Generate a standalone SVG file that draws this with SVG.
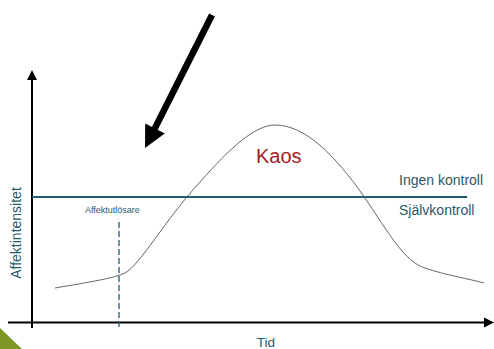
<svg xmlns="http://www.w3.org/2000/svg" width="494" height="349" viewBox="0 0 494 349">
<style>
.axis{stroke:#000;stroke-width:2;fill:none}
.lbl{font-family:"Liberation Sans",Arial,sans-serif;fill:#1f5b6b}
</style>
<rect width="494" height="349" fill="#fff"/>
<polygon points="0,328 0,349 22,349" fill="#7d9624"/>
<g id="axes">
<line class="axis" x1="32" y1="78" x2="32" y2="328"/>
<polygon points="32,70 27,80 37,80" fill="#000"/>
<line class="axis" x1="8" y1="322.5" x2="486" y2="322.5"/>
<polygon points="494,322.5 484,317.5 484,327.5" fill="#000"/>
</g>
<g id="limit">
<line x1="32" y1="197" x2="467" y2="197" stroke="#1f5b6b" stroke-width="2"/>
<text class="lbl" x="399" y="185" font-size="14">Ingen kontroll</text>
<text class="lbl" x="399" y="215" font-size="14">Självkontroll</text>
</g>
<g id="trigger">
<line x1="119" y1="222" x2="119" y2="330" stroke="#1f5b6b" stroke-width="1.3" stroke-dasharray="6,3"/>
<text class="lbl" x="85" y="213" font-size="9">Affektutlösare</text>
</g>
<g id="curve">
<path d="M55,288 C90,282 115,278 125,273 C140,265 165,220 200,182 C230,148 255,125 275,125 C305,125 335,155 365,198 C390,235 405,262 425,268 C445,275 470,279 484,283" fill="none" stroke="#555" stroke-width="0.9"/>
</g>
<g id="kaos">
<text x="256" y="163" font-family="'Liberation Sans',Arial,sans-serif" font-size="20" fill="#a31d1d">Kaos</text>
</g>
<g id="arrow">
<line x1="212" y1="15" x2="154" y2="130" stroke="#000" stroke-width="6.5"/>
<polygon points="145,148 145.2,123.5 164.8,133.4" fill="#000"/>
</g>
<text class="lbl" x="21" y="233" font-size="14" text-anchor="middle" transform="rotate(-90 21 233)">Affektintensitet</text>
<text class="lbl" x="266" y="347" font-size="13.5" text-anchor="middle">Tid</text>
</svg>
